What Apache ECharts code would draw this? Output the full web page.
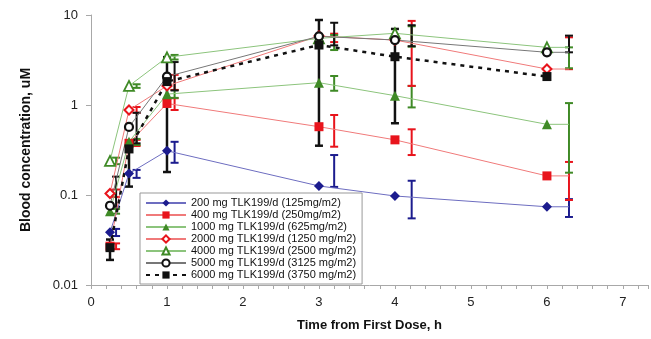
<!DOCTYPE html>
<html>
<head>
<meta charset="utf-8">
<script src="https://cdn.jsdelivr.net/npm/echarts@6/dist/echarts.min.js"></script>
<style>
    html, body {margin: 0; padding: 0; background: #fff;}
    #chart {width: 651px; height: 339px;}
</style>
</head>
<body>
<div id="chart"></div>
<script>
// nominal sampling times and the shifted times where error bars sit
const times = [0.25, 0.5, 1, 3, 4, 6];
const errTimes = [0.33, 0.6, 1.1, 3.2, 4.22, 6.29];

const names = [
    "200 mg TLK199/d (125mg/m2)",
    "400 mg TLK199/d (250mg/m2)",
    "1000 mg TLK199/d (625mg/m2)",
    "2000 mg TLK199/d (1250 mg/m2)",
    "4000 mg TLK199/d (2500 mg/m2)",
    "5000 mg TLK199/d (3125 mg/m2)",
    "6000 mg TLK199/d (3750 mg/m2)"
];

// mean blood concentration, uM
const dose200 = [0.0385, 0.173, 0.31, 0.126, 0.0975, 0.074];
const dose400 = [0.027, 0.375, 1.04, 0.574, 0.41, 0.163];
const dose1000 = [0.066, 0.39, 1.32, 1.77, 1.27, 0.61];
const dose2000 = [0.104, 0.88, 1.63, 5.84, 5.27, 2.51];
const dose4000 = [0.239, 1.63, 3.39, 5.5, 6.26, 4.37];
const dose5000 = [0.076, 0.57, 2.07, 5.8, 5.27, 3.85];
const dose6000 = [0.026, 0.325, 1.82, 4.64, 3.44, 2.07];

// error bar ranges [low, high]
const err200 = [[0.035, 0.042], [0.155, 0.19], [0.228, 0.39], [0.123, 0.278], [0.055, 0.144], [0.057, 0.09]];
const err400 = [[0.025, 0.029], [0.35, 0.41], [0.88, 1.19], [0.344, 0.774], [0.278, 0.537], [0.088, 0.233]];
const err1000 = [[0.062, 0.07], [0.36, 0.42], [1.2, 1.47], [1.44, 2.1], [0.94, 1.63], [0.177, 1.05]];
const err2000 = [[0.095, 0.115], [0.82, 0.95], [1.47, 2.16], [5.0, 6.2], [1.63, 8.6], [2.5, 5.65]];
const err4000 = [[0.22, 0.26], [1.55, 1.7], [3.2, 3.6], [4.08, 6.0], [4.45, 7.5], [2.56, 4.37]];
const err5000 = [[0.074, 0.16], [0.375, 0.82], [1.45, 3.0], [4.6, 8.2], [4.5, 7.7], [3.85, 5.9]];
const err6000 = [[0.019, 0.032], [0.124, 0.4], [0.18, 3.4], [0.353, 8.8], [0.627, 7.0]];

const xTicks = [0, 1, 2, 3, 4, 5, 6, 7];
const yTicks = [0.01, 0.1, 1, 10];

const BLUE = "#1c1c8e", RED = "#e8141c", GREEN = "#3f8a26";
const FONT = "Liberation Sans, Arial, sans-serif";

function lineData(values, extend) {
    const d = times.map((t, i) => [t, values[i]]);
    // line runs on to the last error bar without a marker there
    if (extend) d.push({value: [errTimes[5], values[5]], symbol: "none"});
    return d;
}

function errData(ranges, xs) {
    return ranges.map((r, i) => [xs[i], r[0], r[1]]);
}

function errSeries(ranges, xs, color, width) {
    return {
        type: "custom",
        z: 1,
        silent: true,
        data: errData(ranges, xs),
        encode: {x: 0, y: [1, 2]},
        renderItem: (params, api) => {
            const x = api.value(0);
            const lo = api.coord([x, api.value(1)]);
            const hi = api.coord([x, api.value(2)]);
            const h = 4;
            const style = {stroke: color, lineWidth: width};
            return {
                type: "group",
                children: [
                    {type: "line", shape: {x1: lo[0], y1: lo[1], x2: hi[0], y2: hi[1]}, style},
                    {type: "line", shape: {x1: lo[0] - h, y1: lo[1], x2: lo[0] + h, y2: lo[1]}, style},
                    {type: "line", shape: {x1: hi[0] - h, y1: hi[1], x2: hi[0] + h, y2: hi[1]}, style}
                ]
            };
        }
    };
}

function lineSeries(name, values, symbol, size, itemStyle, lineStyle, extend) {
    return {
        name: name,
        type: "line",
        z: 3,
        data: lineData(values, extend),
        symbol: symbol,
        symbolSize: size,
        itemStyle: itemStyle,
        lineStyle: lineStyle,
        emphasis: {disabled: true}
    };
}

const chart = echarts.init(document.getElementById("chart"));

chart.setOption({
    animation: false,
    textStyle: {fontFamily: FONT},
    grid: {left: 91, right: 0, top: 15, bottom: 54},
    xAxis: {
        type: "value",
        min: 0,
        max: 7.33,
        interval: 1,
        name: "Time from First Dose, h",
        nameLocation: "middle",
        nameGap: 34,
        nameTextStyle: {color: "#111", fontSize: 13, fontWeight: "bold", fontFamily: FONT},
        axisLine: {lineStyle: {color: "#a8a8a8"}},
        axisTick: {length: 4, lineStyle: {color: "#a8a8a8"}},
        minorTick: {show: true, splitNumber: 5, length: 4, lineStyle: {color: "#a8a8a8"}},
        splitLine: {show: false},
        axisLabel: {
            color: "#222", fontSize: 13, margin: 11,
            formatter: v => xTicks.includes(v) ? String(v) : ""
        }
    },
    yAxis: {
        type: "log",
        logBase: 10,
        min: 0.01,
        max: 10,
        name: "Blood concentration, uM",
        nameLocation: "middle",
        nameGap: 58,
        nameTextStyle: {color: "#111", fontSize: 14, fontWeight: "bold", fontFamily: FONT},
        axisLine: {show: true, lineStyle: {color: "#a8a8a8"}},
        axisTick: {show: true, length: 5, lineStyle: {color: "#a8a8a8"}},
        splitLine: {show: false},
        axisLabel: {
            color: "#222", fontSize: 13, margin: 13,
            formatter: v => {
                const m = yTicks.find(t => Math.abs(t - v) / t < 1e-6);
                return m === undefined ? "" : String(m);
            }
        }
    },
    legend: {
        data: names,
        orient: "vertical",
        left: 140,
        top: 193,
        padding: [4, 6, 3, 5],
        itemGap: 0,
        itemWidth: 40,
        itemHeight: 9,
        borderColor: "#999",
        borderWidth: 1,
        backgroundColor: "#fff",
        selectedMode: false,
        textStyle: {fontSize: 11, color: "#111", lineHeight: 12, fontFamily: FONT}
    },
    series: [
        errSeries(err200, errTimes, BLUE, 2),
        errSeries(err400, errTimes, RED, 2),
        errSeries(err1000, errTimes, GREEN, 2),
        errSeries(err2000, errTimes, RED, 2),
        errSeries(err4000, errTimes, GREEN, 2),
        errSeries(err5000, errTimes, "#111", 2),
        errSeries(err6000, times, "#111", 2.5),
        lineSeries(names[0], dose200, "diamond", 10, {color: BLUE},
            {color: "#6d6dc0", width: 1}, true),
        lineSeries(names[1], dose400, "rect", 9, {color: RED},
            {color: "#f07a7a", width: 1}, true),
        lineSeries(names[2], dose1000, "triangle", 10, {color: GREEN},
            {color: "#8cc47c", width: 1}, true),
        lineSeries(names[3], dose2000, "diamond", 9, {color: "#fff", borderColor: RED, borderWidth: 2},
            {color: "#f07a7a", width: 1}, true),
        lineSeries(names[4], dose4000, "triangle", 10, {color: "#fff", borderColor: GREEN, borderWidth: 1.8},
            {color: "#8cc47c", width: 1}, true),
        lineSeries(names[5], dose5000, "circle", 8, {color: "#fff", borderColor: "#111", borderWidth: 2.2},
            {color: "#777", width: 1}, true),
        lineSeries(names[6], dose6000, "rect", 9, {color: "#111"},
            {color: "#111", width: 2.5, type: [4, 5]}, false)
    ]
});
</script>
</body>
</html>
